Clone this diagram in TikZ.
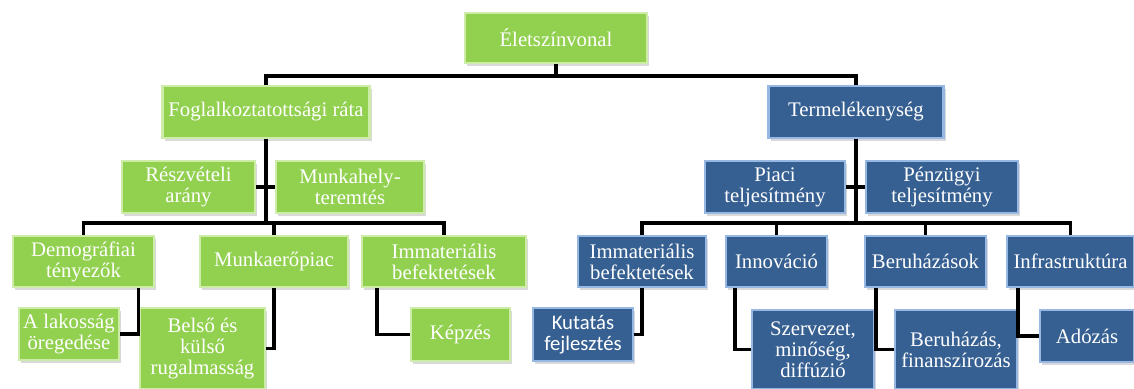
\documentclass[tikz,border=0pt]{standalone}
\usepackage{fontspec}
\setmainfont{Liberation Serif}
\newfontfamily\kutfont{Carlito}
\usepackage{tikz}
\usetikzlibrary{shadows}
\definecolor{zold}{RGB}{146,208,80}
\definecolor{zoldel}{RGB}{204,236,168}
\definecolor{kek}{RGB}{55,96,146}
\definecolor{kekel}{RGB}{150,184,226}
\tikzstyle{zoldbox} = [rectangle, inner sep=1pt, align=center, text=white, fill=zold, draw=zoldel, line width=1.2pt, drop shadow={shadow xshift=1.2pt, shadow yshift=-1.5pt, opacity=0.3}, font=\fontsize{11.8}{12}\selectfont]
\tikzstyle{kekbox} = [zoldbox, fill=kek, draw=kekel]
\tikzstyle{conn} = [line width=2pt, black]

\begin{document}
\begin{tikzpicture}[x=0.02cm, y=-0.02cm]
\useasboundingbox (0,0) rectangle (1134,389);
% top level
\node (elet) [zoldbox, minimum width=3.64cm, minimum height=1cm] at (556,38) {Életszínvonal};
\node (fog) [zoldbox, minimum width=4.14cm, minimum height=1.04cm] at (266,112) {Foglalkoztatottsági ráta};
\node (term) [kekbox, minimum width=3.5cm, minimum height=1.04cm] at (856,112) {Termelékenység};
% second level
\node (resz) [zoldbox, minimum width=2.66cm, minimum height=1.04cm] at (188.5,187) {Részvételi\\arány};
\node (munkah) [zoldbox, minimum width=2.96cm, minimum height=1.04cm] at (350,187) {Munkahely-\\teremtés};
\node (piaci) [kekbox, minimum width=2.8cm, minimum height=1.04cm] at (775,187) {Piaci\\teljesítmény};
\node (penz) [kekbox, minimum width=3.04cm, minimum height=1.04cm] at (942,187) {Pénzügyi\\teljesítmény};
% third level
\node (demo) [zoldbox, minimum width=2.82cm, minimum height=1.02cm] at (83.5,261.5) {Demográfiai\\tényezők};
\node (munkaer) [zoldbox, minimum width=2.96cm, minimum height=1.02cm] at (274,261.5) {Munkaerőpiac};
\node (immz) [zoldbox, minimum width=3.28cm, minimum height=1.02cm] at (444,261.5) {Immateriális\\befektetések};
\node (immk) [kekbox, minimum width=2.56cm, minimum height=1.02cm] at (642,261.5) {Immateriális\\befektetések};
\node (innov) [kekbox, minimum width=2.02cm, minimum height=1.02cm] at (776.5,261.5) {Innováció};
\node (beruh) [kekbox, minimum width=2.42cm, minimum height=1.02cm] at (925.5,261.5) {Beruházások};
\node (infra) [kekbox, minimum width=2.54cm, minimum height=1.02cm] at (1070.5,261.5) {Infrastruktúra};
% bottom level
\node (lak) [zoldbox, minimum width=2cm, minimum height=1.04cm] at (69,334) {A lakosság\\öregedése};
\node (belso) [zoldbox, minimum width=2.5cm, minimum height=1.62cm] at (202.5,348.5) {Belső és\\külső\\rugalmasság};
\node (kepzes) [zoldbox, minimum width=1.98cm, minimum height=1.06cm] at (460.5,334.5) {Képzés};
\node (kut) [kekbox, minimum width=2cm, minimum height=1.06cm, font=\fontsize{11.8}{12}\kutfont] at (583,334.5) {Kutatás\\fejlesztés};
\node (szerv) [kekbox, minimum width=2.44cm, minimum height=1.58cm] at (813,349.5) {Szervezet,\\minőség,\\diffúzió};
\node (befin) [kekbox, minimum width=2.44cm, minimum height=1.58cm] at (956,349.5) {Beruházás,\\finanszírozás};
\node (adoz) [kekbox, minimum width=1.88cm, minimum height=1.04cm] at (1087,336) {Adózás};

\coordinate (sor1) at (556,76);
\coordinate (sor2) at (266,223);
\coordinate (sor3) at (856,223);
\draw [conn] (elet) -- (sor1) -| (fog);
\draw [conn] (sor1) -| (term);
% left branch
\draw [conn] (fog) -- (sor2);
\draw [conn] (resz) -- (munkah);
\draw [conn] (sor2) -| (demo);
\draw [conn] (sor2) -| (munkaer);
\draw [conn] (sor2) -| (immz);
\draw [conn] ([xshift=1.1cm]demo.south) |- (lak);
\draw [conn] (munkaer) |- (belso);
\draw [conn] ([xshift=0.32cm]immz.south west) |- (kepzes);
% right branch
\draw [conn] (term) -- (sor3);
\draw [conn] (piaci) -- (penz);
\draw [conn] (sor3) -| (immk);
\draw [conn] (sor3) -| (innov);
\draw [conn] (sor3) -| (beruh);
\draw [conn] (sor3) -| (infra);
\draw [conn] (immk) |- (kut);
\draw [conn] ([xshift=0.2cm]innov.south west) |- (szerv);
\draw [conn] ([xshift=0.24cm]beruh.south west) |- (befin);
\draw [conn] ([xshift=0.24cm]infra.south west) |- (adoz);

\end{tikzpicture}
\end{document}
